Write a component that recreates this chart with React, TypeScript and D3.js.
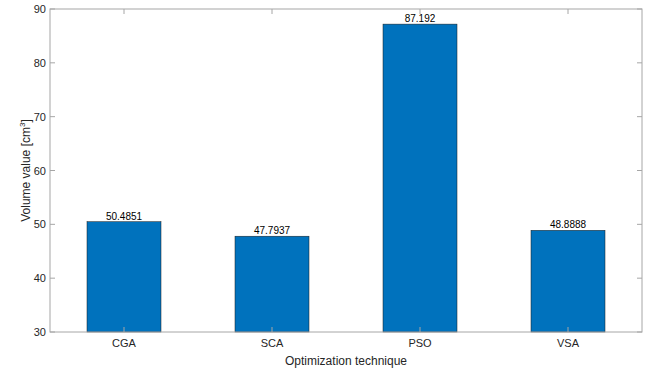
import React from 'react';
import * as d3 from 'd3';

const techniques = ['CGA', 'SCA', 'PSO', 'VSA'];
const volumes = [50.4851, 47.7937, 87.192, 48.8888];
const yTicks = [30, 40, 50, 60, 70, 80, 90];

const W = 649, H = 372;
const left = 50, right = 642, top = 9, bottom = 332;
const axisColor = '#a6a6a6';
const textColor = '#262626';
const font = 'Liberation Sans, Arial, sans-serif';

export default function App() {
  const x = d3.scaleLinear().domain([0.5, 4.5]).range([left, right]);
  const y = d3.scaleLinear().domain([30, 90]).range([bottom, top]);
  const barW = x(1) - x(0.5);

  return (
    <svg width={W} height={H} style={{ position: 'absolute', left: 0, top: 0 }} fontFamily={font}>
      <rect x={0} y={0} width={W} height={H} fill="#fff" />
      {/* bars + value labels */}
      {volumes.map((v, i) => (
        <g key={techniques[i]}>
          <rect x={x(i + 1) - barW / 2} y={y(v)} width={barW} height={y(30) - y(v)}
            fill="#0072BD" stroke="#1a1a1a" strokeWidth={0.5} />
          <text x={x(i + 1)} y={y(v) - 2} textAnchor="middle" fontSize={10} fill="#000">
            {String(v)}
          </text>
        </g>
      ))}
      {/* box */}
      <rect x={left} y={top} width={right - left} height={bottom - top} fill="none" stroke={axisColor} strokeWidth={1} />
      {/* y ticks, both sides */}
      {yTicks.map(t => (
        <g key={t}>
          <line x1={left} x2={left + 5} y1={y(t)} y2={y(t)} stroke={axisColor} />
          <line x1={right} x2={right - 5} y1={y(t)} y2={y(t)} stroke={axisColor} />
          <text x={left - 4} y={y(t) + 4} textAnchor="end" fontSize={11} fill={textColor}>{t}</text>
        </g>
      ))}
      {/* x ticks, bottom and top */}
      {techniques.map((c, i) => (
        <g key={c}>
          <line x1={x(i + 1)} x2={x(i + 1)} y1={bottom} y2={bottom - 5} stroke={axisColor} />
          <line x1={x(i + 1)} x2={x(i + 1)} y1={top} y2={top + 5} stroke={axisColor} />
          <text x={x(i + 1)} y={bottom + 15} textAnchor="middle" fontSize={11} fill={textColor}>{c}</text>
        </g>
      ))}
      <text x={(left + right) / 2} y={365} textAnchor="middle" fontSize={12} fill={textColor}>
        Optimization technique
      </text>
      <text transform={`translate(30,${(top + bottom) / 2}) rotate(-90)`} textAnchor="middle" fontSize={12} fill={textColor}>
        Volume value [cm<tspan dy={-5} fontSize={8}>3</tspan><tspan dy={5}>]</tspan>
      </text>
    </svg>
  );
}
